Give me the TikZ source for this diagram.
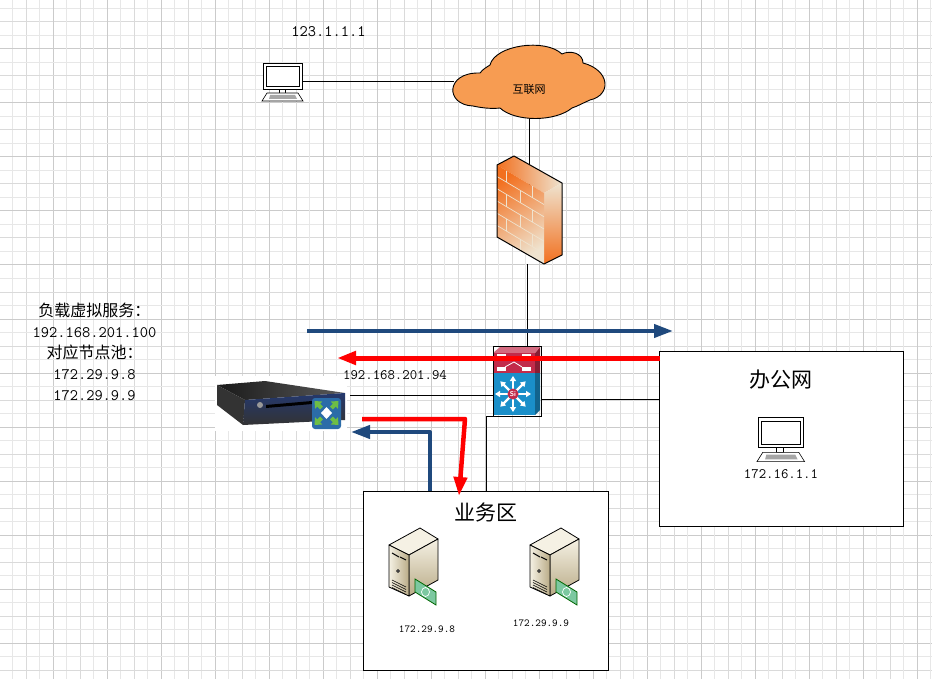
\documentclass[tikz,border=0pt]{standalone}
\usepackage{fontspec}
\newfontfamily\cjk{Noto Sans CJK SC}
\usetikzlibrary{arrows.meta}
\definecolor{gridminor}{HTML}{E7E7E7}
\definecolor{gridmid}{HTML}{DADADA}
\definecolor{gridmajor}{HTML}{CBCBCB}
\definecolor{cloudfill}{HTML}{F79C52}
\definecolor{flowblue}{HTML}{1F497D}
\definecolor{brick}{HTML}{F2701F}
\definecolor{brickpale}{HTML}{EFE3CF}
\definecolor{swred}{HTML}{C22B4A}
\definecolor{swblue}{HTML}{1A8FC9}
\definecolor{servertan}{HTML}{B9AB87}
\definecolor{serverpale}{HTML}{F5F1E4}
\definecolor{notegreen}{HTML}{7CC8A0}
\definecolor{boxnavy}{HTML}{24386E}
\definecolor{iconblue}{HTML}{2B6CA8}
\definecolor{icongreen}{HTML}{6DBE45}
\tikzset{
  spot/.style={inner sep=0pt, outer sep=0pt},
  areabox/.style={draw, fill=white, spot, line width=1pt},
  link/.style={line width=1pt},
  flowarrow/.style={line width=4pt, draw=flowblue, -{Triangle[length=19pt,width=13pt]}},
  backarrow/.style={line width=5pt, draw=red, line join=round, -{Triangle[length=19pt,width=13pt]}},
  iptext/.style={spot, font=\ttfamily\fontsize{14.4}{16}\selectfont},
  iptiny/.style={spot, font=\ttfamily\fontsize{10.7}{12}\selectfont},
  title/.style={spot, font=\cjk\fontsize{21}{24}\selectfont},
  pics/pcicon/.style={code={
    \draw[fill=white, line width=.8pt] (1,0) rectangle (40,26);
    \draw[line width=.6pt] (4,3) rectangle (37,23);
    \draw[fill=white, line width=.6pt] (17,26) rectangle (23,30);
    \draw[fill=white, line width=.6pt] (5,30) -- (36,30) -- (41,38) -- (0,38) -- cycle;
    \fill[gray!70] (8,32) -- (33,32) -- (35,36) -- (7,36) -- cycle;
  }},
  pics/servericon/.style={code={
    \draw[fill=serverpale, line width=.8pt, line join=round] (31,0) -- (49,11) -- (20,27) -- (0,17) -- cycle;
    \draw[top color=serverpale, bottom color=servertan, line width=.8pt, line join=round] (20,27) -- (49,11) -- (49,52) -- (20,68) -- cycle;
    \draw[left color=serverpale, right color=servertan, line width=.8pt, line join=round] (0,17) -- (20,27) -- (20,68) -- (0,59) -- cycle;
    \draw[line width=1pt] (3,25) -- (10,29) (11,29) -- (17,32);
    \draw[line width=.6pt, fill=gray] (9,43) circle (1.5);
    \foreach \v in {52,54.5,57,59.5} \draw[line width=.6pt] (3,\v) -- (17,\v+7);
    \draw[fill=notegreen, line width=.8pt, draw=black!60!green] (26,51) -- (47,64) -- (47,77) -- (26,64) -- cycle;
    \draw[white, line width=.7pt] (36.5,64) ellipse (4 and 4.5);
  }},
}
\begin{document}
\begin{tikzpicture}[x=1pt, y=-1pt]
\useasboundingbox (0,0) rectangle (932,679);
\fill[white] (0,0) rectangle (932,679);
% grid
\foreach \i in {0,...,69} {
  \pgfmathtruncatemacro{\k}{mod(\i,4)}
  \pgfmathsetmacro{\gx}{-1+13.5*\i}
  \pgfmathsetmacro{\gy}{-5+13.5*\i}
  \ifnum\k=0 \def\gc{gridmajor}\else\ifnum\k=2 \def\gc{gridmid}\else\def\gc{gridminor}\fi\fi
  \draw[\gc, line width=1pt] (\gx,0) -- (\gx,679);
  \ifnum\i<52 \draw[\gc, line width=1pt] (0,\gy) -- (932,\gy); \fi
}
% white back of the balancer
\fill[white] (215,376) rectangle (347,431);
% areas
\node[areabox, minimum width=244pt, minimum height=175pt] (office) at (781,438.5) {};
\node[areabox, minimum width=245pt, minimum height=179pt] (zone) at (485.5,580.5) {};
\node[title] (officetitle) at (781,380) {办公网};
\node[title] (zonetitle) at (485.5,512) {业务区};
% icon places
\node[spot, minimum width=41pt, minimum height=38pt] (pctop) at (282.5,82) {};
\node[spot, minimum width=151pt, minimum height=72pt] (cloud) at (529.5,82) {};
\node[spot, minimum width=65pt, minimum height=108pt] (firewall) at (529.5,210) {};
\node[spot, minimum width=48pt, minimum height=70pt] (switch) at (517,381) {};
\node[spot, minimum width=133pt, minimum height=32pt] (balancer) at (283.5,395) {};
\node[spot, minimum width=48pt, minimum height=44pt] (pcoffice) at (781,439.5) {};
\node[spot, minimum width=48pt, minimum height=76pt] (serverone) at (413,566) {};
\node[spot, minimum width=48pt, minimum height=76pt] (servertwo) at (554,566) {};
% connection points
\coordinate (swtop) at (527.5,346);
\coordinate (swright) at (541,399);
\coordinate (swdown) at (486,416);
\coordinate (bluestart) at (307,331);
\coordinate (blueend) at (673,331);
\coordinate (redstart) at (660,358);
\coordinate (redend) at (337,358);
\coordinate (redone) at (362,419);
\coordinate (redtwo) at (465,419);
\coordinate (redthree) at (459,496);
\coordinate (bluetwo) at (430,491);
\coordinate (bluethree) at (430,432);
\coordinate (bluefour) at (351,432);
% links
\draw[link] (pctop) -- (cloud);
\draw[link] (cloud.south) -- (firewall.center);
\draw[link] (swtop |- firewall.south) -- (swtop);
\draw[link] (balancer.east) -- (switch.center |- balancer.east);
\draw[link] (swright) -- (swright -| office.west);
\draw[link] (switch.south east) -- (swdown) -- (swdown |- zone.north);
% computers
\pic at (pctop.north west) {pcicon};
\pic[scale=1.16] at (pcoffice.north west) {pcicon};
% cloud
\draw[fill=cloudfill, line width=.9pt] (480,73) .. controls (483,69) and (487,67) .. (490,65)
  .. controls (495,45) and (545,38) .. (562,54)
  .. controls (570,50) and (583,53) .. (583,63)
  .. controls (610,70) and (612,95) .. (590,100)
  .. controls (583,103) and (578,106) .. (572,108)
  .. controls (555,122) and (515,122) .. (500,108)
  .. controls (492,109) and (482,108) .. (473,106)
  .. controls (445,105) and (445,72) .. (480,73) -- cycle;
\node[spot, font=\cjk\fontsize{11}{13}\selectfont] (cloudtext) at (529,89) {互联网};
% firewall
\begin{scope}[line join=round]
\shade[left color=brick, right color=brickpale] (497,165) -- (514,156) -- (562,183) -- (544,193) -- cycle;
\shade[top color=brickpale, bottom color=brick] (544,193) -- (562,183) -- (562,255) -- (544,264) -- cycle;
\shade[left color=brick, middle color=brick!65!brickpale, right color=brickpale, shading angle=35] (497,165) -- (544,193) -- (544,264) -- (497,237) -- cycle;
\foreach \v in {.16,.33,.5,.67,.84} \draw[brickpale, line width=.7pt] (497,165+72*\v) -- (544,193+72*\v);
\foreach \u/\a/\b in {.2/0/.16,.75/0/.16,.2/.33/.5,.75/.33/.5,.2/.67/.84,.75/.67/.84,.5/.16/.33,.5/.5/.67,.5/.84/1}
  \draw[brickpale, line width=.7pt] (497+47*\u,165+28*\u+72*\a) -- (497+47*\u,165+28*\u+72*\b);
\draw[line width=1pt] (497,165) -- (514,156) -- (562,183) -- (562,255) -- (544,264) -- (497,237) -- cycle;
\end{scope}
% balancer
\shade[left color=black!90, right color=black!65] (217,385) -- (265,381) -- (345,393) -- (245,400) -- cycle;
\fill[black!80] (217,385) -- (245,400) -- (243,425) -- (217,405) -- cycle;
\shade[top color=boxnavy, bottom color=black!80] (245,400) -- (345,393) -- (345,420) -- (243,425) -- cycle;
\fill[black] (266,405) -- (312,401) -- (312,404) -- (266,408) -- cycle;
\fill[black!40] (260,405) circle (3);
\fill[iconblue, rounded corners=3pt] (312,398) rectangle (341,429);
\foreach \a in {45,135,225,315} \draw[icongreen, line width=4pt, -{Triangle[length=6pt,width=10pt]}] (326.5,413) ++(\a:7) -- ++(\a:10);
\fill[white] (326.5,407) -- (332,413) -- (326.5,419) -- (321,413) -- cycle;
% switch
\fill[swred!70!black] (535,353) -- (540,347) -- (540,373) -- (535,373) -- cycle;
\fill[swblue!70!black] (535,373) -- (540,373) -- (540,410) -- (535,415) -- cycle;
\fill[swred!70!white] (493,353) -- (500,347) -- (540,347) -- (535,353) -- cycle;
\fill[swred] (493,353) rectangle (535,373);
\fill[swblue] (493,373) rectangle (535,415);
\draw[link] (493,416) -- (493,346) -- (541,346) -- (541,416) -- cycle;
\draw[white, line width=.8pt, fill=white] (497,354) rectangle (505,356) (522,354) rectangle (530,356) (497,367) rectangle (505,370) (522,367) rectangle (530,370);
\draw[white, line width=.8pt] (505,367) -- (514,362) -- (522,367);
\foreach \a in {0,45,...,315} \draw[white, line width=2.2pt, -{Triangle[length=5pt,width=6pt]}] (513,394) -- ++(\a:18);
\node[circle, fill=swred, inner sep=0pt, minimum size=11pt, text=white, font=\sffamily\bfseries\fontsize{7}{8}\selectfont] (silabel) at (513,394) {Si};
% servers
\pic at (serverone.north west) {servericon};
\pic at (servertwo.north west) {servericon};
% flows
\draw[flowarrow] (bluestart) -- (blueend);
\draw[backarrow] (redstart) -- (redend);
\draw[backarrow, line width=4.5pt] (redone) -- (redtwo) -- (redthree);
\draw[flowarrow, line join=round] (bluetwo) -- (bluethree) -- (bluefour);
% labels
\node[iptext, font=\ttfamily\fontsize{16}{18}\selectfont] (pcip) at (328.5,32) {123.1.1.1};
\node[iptext] (swip) at (395,375) {192.168.201.94};
\node[iptext] (officeip) at (781,474) {172.16.1.1};
\node[iptiny] (serveroneip) at (427,629) {172.29.9.8};
\node[iptiny] (servertwoip) at (541,623) {172.29.9.9};
\node[spot, align=center, font=\ttfamily\fontsize{16}{21}\selectfont] (pooltext) at (94.5,352)
  {{\cjk 负载虚拟服务：}\\192.168.201.100\\{\cjk 对应节点池：}\\172.29.9.8\\172.29.9.9};
\end{tikzpicture}
\end{document}
